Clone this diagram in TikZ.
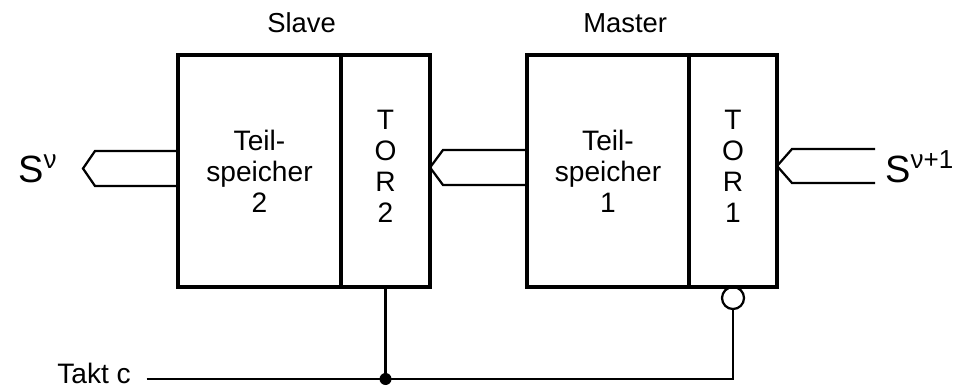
\documentclass[tikz,border=0pt]{standalone}
\usepackage{fontspec}
\setmainfont{Liberation Sans}
\usetikzlibrary{positioning,calc}

\tikzset{
  block/.style={draw,line width=2.6pt,minimum height=5.8cm,inner sep=0pt,
    outer sep=0pt,align=center,font=\fontsize{20}{22}\selectfont},
  gate/.style={block,minimum width=2.2cm,
    execute at end node={\rule[-0.25cm]{0pt}{0pt}}},
  wire/.style={line width=1.6pt},
  label/.style={inner sep=0pt,font=\fontsize{19.5}{22}\selectfont},
  signal/.style={inner sep=0pt,anchor=base west,font=\fontsize{27}{30}\selectfont}
}
\newcommand\supnu[1]{\raisebox{10.5pt}{\fontsize{18.5}{20}\selectfont #1}}

\begin{document}
\begin{tikzpicture}[x=0.025cm,y=-0.025cm]
  \useasboundingbox (0,0) rectangle (968,387);

  % slave
  \node[block,minimum width=4.075cm] (ts2) at (259.5,171) {Teil-\\speicher\\2};
  \node[gate,minimum width=2.225cm,right=0pt of ts2] (tor2) {T\\O\\R\\2};
  % master
  \node[block,minimum width=4.05cm] (ts1) at (608,171) {Teil-\\speicher\\1};
  \node[gate,right=0pt of ts1] (tor1) {T\\O\\R\\1};

  \node[label,anchor=base west] (slave) at (267,33) {Slave};
  \node[label,anchor=base west] (master) at (583,33) {Master};

  % bus signals
  \node[signal] (sout) at (18,183) {S\supnu{ν}};
  \node[signal] (sin) at (885,183) {S\supnu{ν+1}};

  \draw[wire] (ts2.west |- 0,151) -- (95,151) -- (83,168.5) -- (95,186)
    -- (ts2.west |- 0,186);
  \draw[wire] (ts1.west |- 0,150) -- (443,150) -- (tor2.east |- 0,167.5)
    -- (443,185) -- (ts1.west |- 0,185);
  \draw[wire] (875,149) -- (792,149) -- (tor1.east |- 0,166) -- (792,183)
    -- (875,183);

  % clock
  \node[label,anchor=base west,font=\fontsize{20}{22}\selectfont] (takt)
    at (57,383) {Takt c};
  \node[draw,wire,circle,minimum size=0.55cm,inner sep=0pt,outer sep=0pt,
    below=0pt of tor1.south] (inv) {};
  \coordinate (dot) at (tor2.south |- 0,379);
  \draw[wire] (tor2.south) -- (dot);
  \draw[wire] ([xshift=0.39cm]takt.east |- dot) -- (dot) -- (inv.south |- dot)
    -- (inv.south);
  \fill (dot) circle (0.15cm);
\end{tikzpicture}
\end{document}
